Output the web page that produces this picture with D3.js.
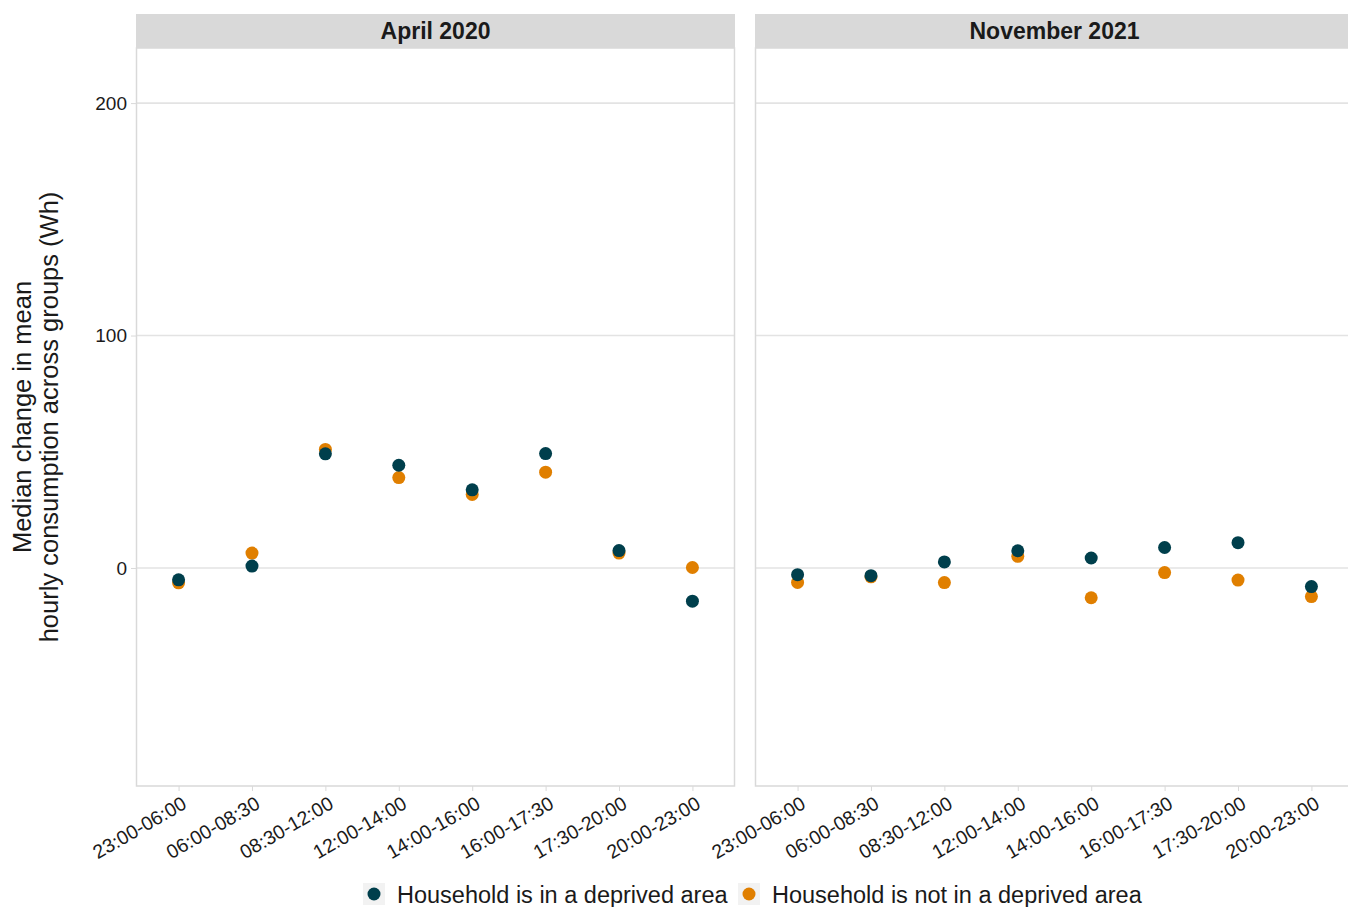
<!DOCTYPE html>
<html><head><meta charset="utf-8">
<script src="https://cdn.jsdelivr.net/npm/d3@7"></script>
<style>body{margin:0;background:#fff;font-family:"Liberation Sans",Arial,sans-serif;overflow:hidden;}</style>
</head><body><svg id="c" width="1348" height="907"></svg>
<script>
const categories = ["23:00-06:00","06:00-08:30","08:30-12:00","12:00-14:00","14:00-16:00","16:00-17:30","17:30-20:00","20:00-23:00"];
const panels = ["April 2020","November 2021"];
const seriesNames = ["Household is in a deprived area","Household is not in a deprived area"];
const colors = ["#003f4c","#e07f00"];
const aprilDeprived    = [-5.1, 0.8, 49.1, 44.2, 33.6, 49.2, 7.5, -14.3];
const aprilNotDeprived = [-6.4, 6.4, 51.0, 38.9, 31.6, 41.2, 6.4, 0.2];
const novDeprived      = [-2.9, -3.3, 2.6, 7.4, 4.3, 8.8, 10.9, -8.0];
const novNotDeprived   = [-6.2, -3.8, -6.3, 5.0, -12.8, -2.0, -5.2, -12.3];
const yTicks = [0, 100, 200];

const panelData = [
  [aprilNotDeprived, aprilDeprived],
  [novNotDeprived, novDeprived]
];

const svg = d3.select("#c");
const pTop = 48, pBottom = 786;
const panelX = [[136, 735], [755, 1354]];
const y = d3.scaleLinear().domain([-93.8, 223.7]).range([pBottom, pTop]);

panelX.forEach((px, pi) => {
  const x = d3.scalePoint().domain(categories).range(px).padding(0.58);
  const g = svg.append("g");
  g.append("rect").attr("x", px[0]).attr("y", 14).attr("width", px[1]-px[0]).attr("height", pTop-14).attr("fill", "#d9d9d9");
  g.append("text").attr("x", (px[0]+px[1])/2).attr("y", 39).attr("text-anchor","middle")
    .attr("font-size", 23).attr("font-weight","bold").attr("fill","#1a1a1a").text(panels[pi]);
  g.selectAll("line.grid").data(yTicks).join("line")
    .attr("x1", px[0]).attr("x2", px[1]).attr("y1", d=>y(d)).attr("y2", d=>y(d))
    .attr("stroke", "#e3e3e3").attr("stroke-width", 1.6);
  g.append("rect").attr("x", px[0]+0.5).attr("y", pTop).attr("width", px[1]-px[0]-1).attr("height", pBottom-pTop)
    .attr("fill","none").attr("stroke","#d9d9d9").attr("stroke-width",1.5);
  const xa = g.append("g").attr("transform", `translate(0,${pBottom})`)
    .call(d3.axisBottom(x).tickSize(5).tickPadding(6));
  xa.select(".domain").remove();
  xa.selectAll(".tick line").attr("stroke","#d9d9d9");
  xa.selectAll(".tick text").attr("font-size", 19.5).attr("fill","#1a1a1a")
    .attr("font-family", "Liberation Sans, Arial, sans-serif")
    .attr("text-anchor","end").attr("dy","0.35em")
    .attr("transform","translate(0,6) rotate(-30)");
  panelData[pi].forEach((vals, si) => {
    const sIdx = si === 0 ? 1 : 0;
    g.selectAll(null).data(vals).join("circle")
      .attr("cx", (d,i)=>x(categories[i])).attr("cy", d=>y(d)).attr("r", 6.5)
      .attr("fill", colors[sIdx]);
  });
});

const ya = svg.append("g").attr("transform", `translate(${panelX[0][0]},0)`)
  .call(d3.axisLeft(y).tickValues(yTicks).tickSize(5).tickPadding(4));
ya.select(".domain").remove();
ya.selectAll(".tick line").attr("stroke","#d9d9d9");
ya.selectAll(".tick text").attr("font-size", 19).attr("fill","#1a1a1a").attr("font-family","Liberation Sans, Arial, sans-serif");

const yt = svg.append("text").attr("transform","translate(0,417) rotate(-90)")
  .attr("text-anchor","middle").attr("font-size",25.5).attr("fill","#1a1a1a");
yt.append("tspan").attr("x",0).attr("y",31).text("Median change in mean");
yt.append("tspan").attr("x",0).attr("y",58).text("hourly consumption across groups (Wh)");

const legX = [363, 738];
seriesNames.forEach((n, i) => {
  const lg = svg.append("g").attr("transform", `translate(${legX[i]},883)`);
  lg.append("rect").attr("width",22).attr("height",22).attr("fill","#f2f2f2");
  lg.append("circle").attr("cx",11).attr("cy",11).attr("r",6.5).attr("fill",colors[i]);
  lg.append("text").attr("x",34).attr("y",20).attr("font-size",23.5).attr("fill","#1a1a1a").text(n);
});
</script></body></html>
